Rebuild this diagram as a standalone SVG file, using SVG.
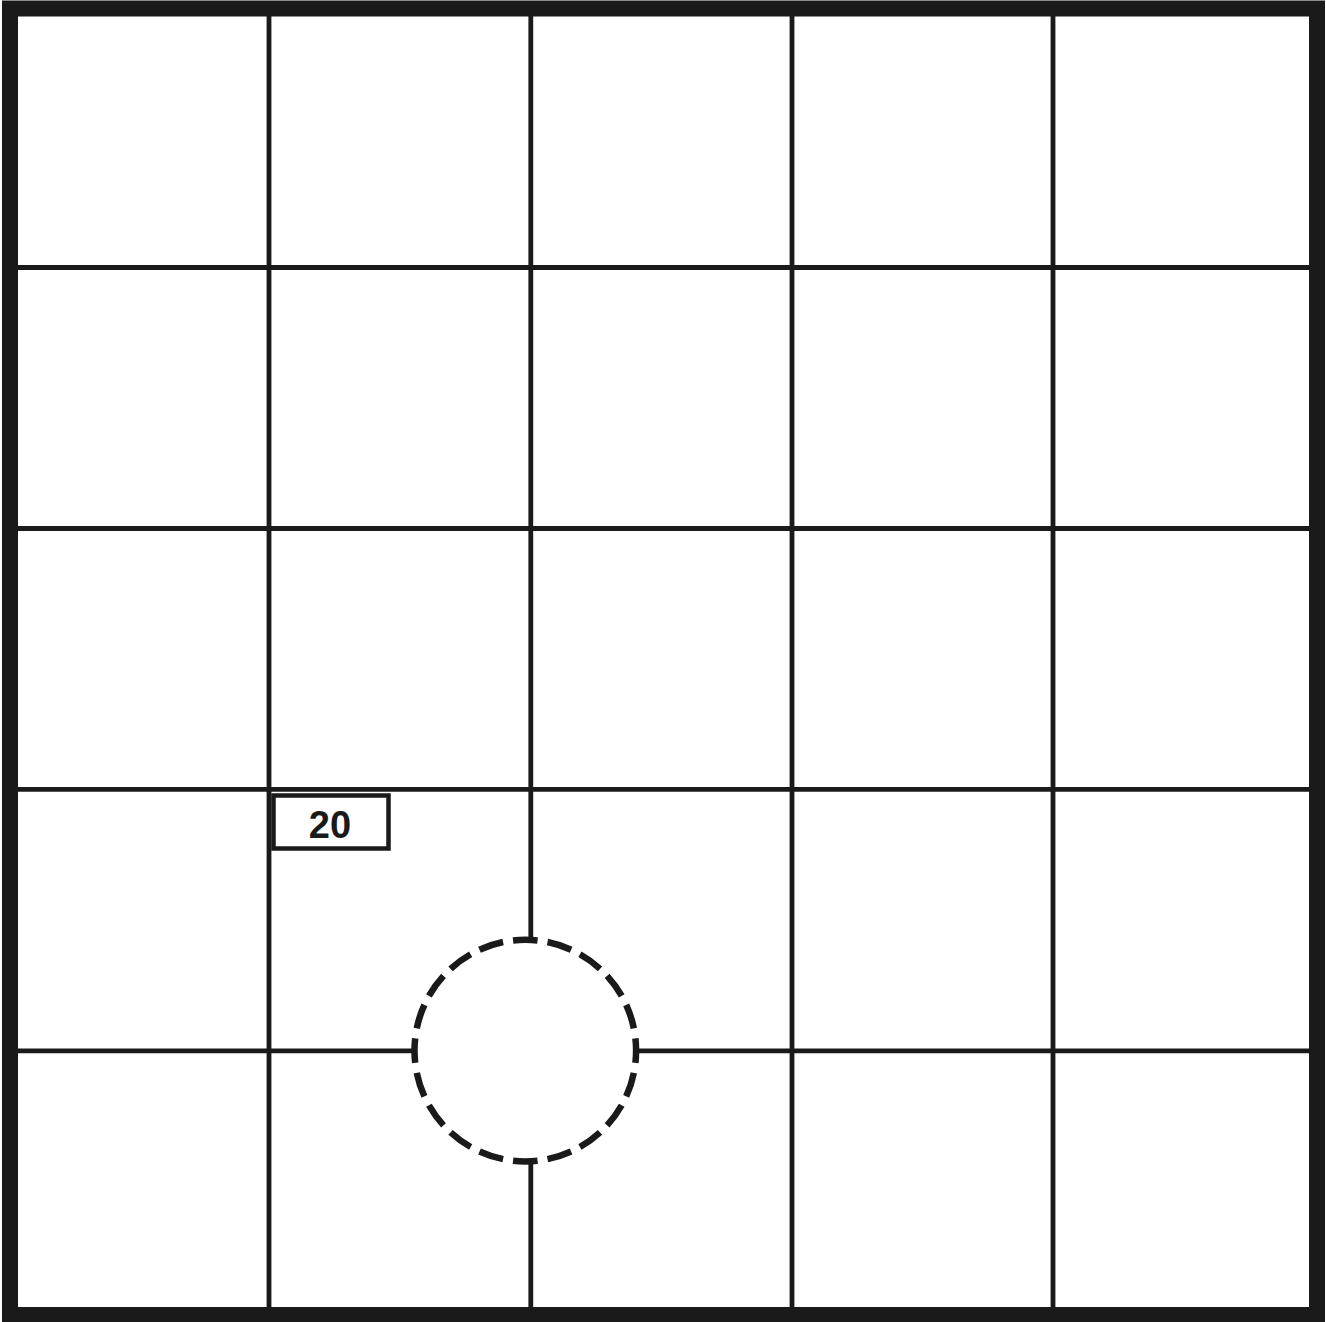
<svg xmlns="http://www.w3.org/2000/svg" width="1326" height="1322" viewBox="0 0 1326 1322">
<style>
.grid{stroke:#1a1a1a;stroke-width:4.8;fill:none}
.border{stroke:#1a1a1a;stroke-width:16;fill:none}
.lbl{font-family:"Liberation Sans",Arial,sans-serif;font-weight:bold;font-size:38px;fill:#1a1a1a;text-anchor:middle}
</style>
<rect width="1326" height="1322" fill="#ffffff"/>
<g id="grid-lines">
<line class="grid" x1="269" y1="10" x2="269" y2="1314"/>
<line class="grid" x1="530.8" y1="10" x2="530.8" y2="1314"/>
<line class="grid" x1="792" y1="10" x2="792" y2="1314"/>
<line class="grid" x1="1053" y1="10" x2="1053" y2="1314"/>
<line class="grid" x1="10" y1="267.5" x2="1317" y2="267.5"/>
<line class="grid" x1="10" y1="528.5" x2="1317" y2="528.5"/>
<line class="grid" x1="10" y1="789.3" x2="1317" y2="789.3"/>
<line class="grid" x1="10" y1="1050.8" x2="1317" y2="1050.8"/>
</g>
<g id="circle">
<circle cx="525.3" cy="1050.6" r="110.8" fill="#ffffff" stroke="#1a1a1a" stroke-width="6.5" pathLength="700" stroke-dasharray="25 10" stroke-dashoffset="12.5"/>
</g>
<g id="label-20">
<rect x="273.5" y="795.5" width="115" height="53" fill="#ffffff" stroke="#1a1a1a" stroke-width="4.5"/>
<text class="lbl" x="330" y="838">20</text>
</g>
<rect id="border" class="border" x="10" y="8.5" width="1307" height="1306.5"/>
</svg>
